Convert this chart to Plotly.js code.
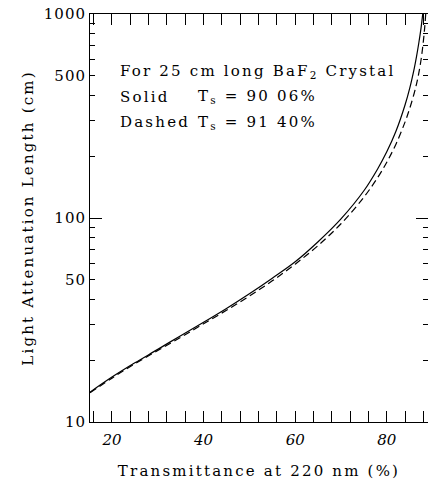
<!DOCTYPE html>
<html>
<head>
<meta charset="utf-8">
<script src="https://cdn.plot.ly/plotly-3.0.1.min.js"></script>
<style>
html,body{margin:0;padding:0;background:#fff;}
#chart{width:428px;height:481px;}
text.xtitle, text.ytitle, text.annotation-text { letter-spacing: 2.2px; }
.ytick text { letter-spacing: 1px; }
</style>
</head>
<body>
<div id="chart"></div>
<script>
// Transmittance at 220 nm (%) and light attenuation length (cm)
const transSolid = [15.2, 20, 25, 30, 35, 40, 45, 50, 55, 60, 65, 70, 75, 78, 80, 82, 84, 85, 86, 86.5, 87, 87.5, 87.85];
const lenSolid   = [14.0, 16.6, 19.5, 22.7, 26.5, 30.8, 36.0, 42.5, 50.7, 61.0, 76.5, 99, 136, 174, 211, 266, 359, 432, 542, 620, 723, 860, 1000];
const transDashed = [15.2, 20, 25, 30, 35, 40, 45, 50, 55, 60, 65, 70, 75, 78, 80, 82, 84, 85, 86, 86.5, 87, 87.5, 88, 88.3, 88.5];
const lenDashed   = [13.9, 16.4, 19.3, 22.4, 26.0, 30.3, 35.3, 41.4, 49.2, 59.4, 73.3, 93.7, 126.5, 157.7, 187.7, 230, 296, 344, 410, 455, 515, 600, 740, 870, 1000];

const xMajorTicks = [20, 40, 60, 80];
const yLabelTicks = [10, 50, 100, 500, 1000];
const yLabelText = ['10', '50', '100', '500', '1000'];
const yMinorTicks = [20, 30, 40, 60, 70, 80, 90, 200, 300, 400, 600, 700, 800, 900];
const yMajorTicks = [10, 100, 1000];

const serif = 'DejaVu Serif, serif';

const traces = [
  {x: transSolid, y: lenSolid, mode: 'lines', line: {color: '#000', width: 1.2, shape: 'spline'}, hoverinfo: 'skip'},
  {x: transDashed, y: lenDashed, mode: 'lines', line: {color: '#000', width: 1.2, dash: '7px,4px', shape: 'spline'}, hoverinfo: 'skip'},
  {x: [], y: [], yaxis: 'y2', mode: 'lines', hoverinfo: 'skip'}
];

const layout = {
  width: 428, height: 481,
  margin: {l: 90, r: 0, t: 14, b: 59},
  paper_bgcolor: '#fff', plot_bgcolor: '#fff',
  showlegend: false,
  xaxis: {
    range: [15.2, 89.0],
    tickvals: xMajorTicks,
    ticks: 'inside', ticklen: 11, tickwidth: 1, tickcolor: '#000',
    minor: {dtick: 4, tick0: 0, ticks: 'inside', ticklen: 4, tickcolor: '#000', showgrid: false},
    showline: true, linecolor: '#000', linewidth: 1, mirror: 'allticks',
    showgrid: false, zeroline: false,
    tickfont: {family: serif, size: 15, color: '#000', style: 'italic'},
    ticklabelstandoff: 4,
    title: {text: 'Transmittance at 220 nm (%)', font: {family: serif, size: 15, color: '#000'}, standoff: 17}
  },
  yaxis: {
    type: 'log',
    range: [1, 3],
    tickvals: yLabelTicks, ticktext: yLabelText,
    ticks: 'inside', ticklen: 5, tickwidth: 1, tickcolor: '#000',
    minor: {tickvals: yMinorTicks, ticks: 'inside', ticklen: 5, tickcolor: '#000', showgrid: false},
    showline: true, linecolor: '#000', linewidth: 1, mirror: 'allticks',
    showgrid: false, zeroline: false,
    tickfont: {family: serif, size: 15, color: '#000'},
    title: {text: 'Light Attenuation Length (cm)', font: {family: serif, size: 15, color: '#000'}, standoff: 6}
  },
  yaxis2: {
    type: 'log', range: [1, 3], overlaying: 'y',
    tickmode: 'array', tickvals: yMajorTicks,
    ticks: 'inside', ticklen: 12, tickcolor: '#000', mirror: 'allticks',
    showline: false, showgrid: false, zeroline: false, showticklabels: false
  },
  annotations: [
    {xref: 'paper', yref: 'paper', x: 0.083, y: 0.858, xanchor: 'left', yanchor: 'middle', showarrow: false,
     text: 'For 25 cm long BaF<sub>2</sub> Crystal', font: {family: serif, size: 15, color: '#000'}},
    {xref: 'paper', yref: 'paper', x: 0.083, y: 0.797, xanchor: 'left', yanchor: 'middle', showarrow: false,
     text: 'Solid', font: {family: serif, size: 15, color: '#000'}},
    {xref: 'paper', yref: 'paper', x: 0.315, y: 0.797, xanchor: 'left', yanchor: 'middle', showarrow: false,
     text: 'T<sub>s</sub> = 90 06%', font: {family: serif, size: 15, color: '#000'}},
    {xref: 'paper', yref: 'paper', x: 0.083, y: 0.735, xanchor: 'left', yanchor: 'middle', showarrow: false,
     text: 'Dashed', font: {family: serif, size: 15, color: '#000'}},
    {xref: 'paper', yref: 'paper', x: 0.315, y: 0.735, xanchor: 'left', yanchor: 'middle', showarrow: false,
     text: 'T<sub>s</sub> = 91 40%', font: {family: serif, size: 15, color: '#000'}}
  ]
};

Plotly.newPlot('chart', traces, layout, {staticPlot: true, displayModeBar: false});
</script>
</body>
</html>
